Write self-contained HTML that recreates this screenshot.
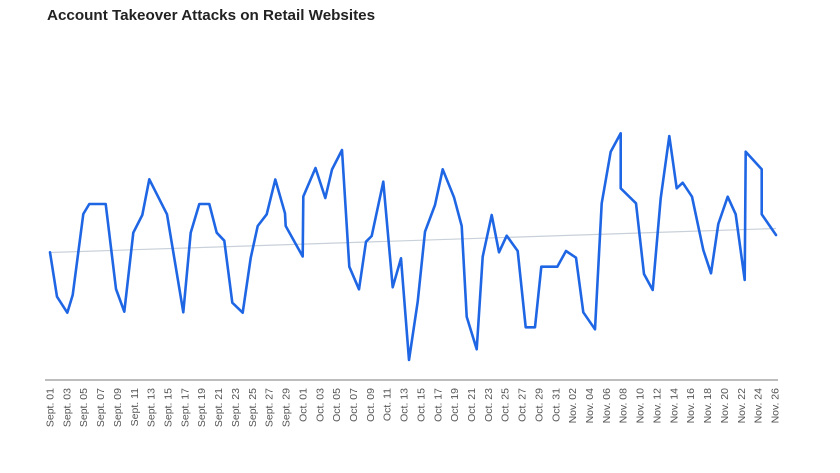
<!DOCTYPE html>
<html><head><meta charset="utf-8"><style>
html,body{margin:0;padding:0;background:#fff;}
svg{display:block;}
</style></head><body>
<svg width="840" height="473" viewBox="0 0 840 473" xmlns="http://www.w3.org/2000/svg">
<rect width="840" height="473" fill="#fff"/>
<text x="47" y="20" font-family="Liberation Sans, sans-serif" font-weight="bold" font-size="15.2" fill="#222">Account Takeover Attacks on Retail Websites</text>
<line x1="45" y1="380" x2="778" y2="380" stroke="#bdbdbd" stroke-width="2"/>
<line x1="50" y1="252.5" x2="776" y2="228.5" stroke="#c8d0d9" stroke-width="1.2"/>
<polyline fill="none" stroke="#1f66e5" stroke-width="2.6" stroke-linejoin="round" stroke-linecap="round" points="50,252.3 57,296.7 67.3,312.7 72.7,295 83.3,214 89.3,204 105.7,204 116,289 124.3,311.7 133.3,232.7 142.3,215 149.3,179.3 167,214.3 183.3,312.3 190.7,232.7 199.3,204 209.3,204 216.7,232.7 224.3,240.7 232.3,302.7 242.7,312.7 250.7,258 257.7,226 266.7,214.3 275.3,179.5 285,213.3 285.7,226 302.7,256.5 303.3,196.5 315.5,168 325.3,198 332,169.5 342,150 349.3,266.7 359,289.3 366,241.7 371.7,236 383.3,181.7 392.7,287.3 401,258.3 409,360 417.7,301.7 425,231.7 435,205 442.7,169.3 454,197.3 461.7,226 466.7,316.7 476.7,349.3 482.7,256.7 491.7,215 499,252.3 506.7,235.7 517.7,251 525.7,327.3 535,327.3 541.3,266.7 557.3,266.7 566,251 576,257.7 583.3,312.3 595,329.3 601.7,203.3 610.7,151.7 620.7,133.3 620.7,188.3 636,203.3 644,274 652.7,290 660.7,198.3 669.3,136 676.7,188.3 682.7,182.7 692,196.7 703.3,250 711,273.3 718.3,224 727.7,196.7 735.7,214.3 744.7,280 745.7,151.7 761.7,169.3 761.7,214.3 776,235"/>
<g font-family="Liberation Sans, sans-serif" font-size="10.5" fill="#555" text-anchor="end">
<text transform="translate(53.5,388) rotate(-90)">Sept. 01</text>
<text transform="translate(70.36,388) rotate(-90)">Sept. 03</text>
<text transform="translate(87.22,388) rotate(-90)">Sept. 05</text>
<text transform="translate(104.08,388) rotate(-90)">Sept. 07</text>
<text transform="translate(120.94,388) rotate(-90)">Sept. 09</text>
<text transform="translate(137.8,388) rotate(-90)">Sept. 11</text>
<text transform="translate(154.66,388) rotate(-90)">Sept. 13</text>
<text transform="translate(171.52,388) rotate(-90)">Sept. 15</text>
<text transform="translate(188.38,388) rotate(-90)">Sept. 17</text>
<text transform="translate(205.24,388) rotate(-90)">Sept. 19</text>
<text transform="translate(222.1,388) rotate(-90)">Sept. 21</text>
<text transform="translate(238.96,388) rotate(-90)">Sept. 23</text>
<text transform="translate(255.82,388) rotate(-90)">Sept. 25</text>
<text transform="translate(272.68,388) rotate(-90)">Sept. 27</text>
<text transform="translate(289.54,388) rotate(-90)">Sept. 29</text>
<text transform="translate(306.4,388) rotate(-90)">Oct. 01</text>
<text transform="translate(323.26,388) rotate(-90)">Oct. 03</text>
<text transform="translate(340.12,388) rotate(-90)">Oct. 05</text>
<text transform="translate(356.98,388) rotate(-90)">Oct. 07</text>
<text transform="translate(373.84,388) rotate(-90)">Oct. 09</text>
<text transform="translate(390.7,388) rotate(-90)">Oct. 11</text>
<text transform="translate(407.56,388) rotate(-90)">Oct. 13</text>
<text transform="translate(424.42,388) rotate(-90)">Oct. 15</text>
<text transform="translate(441.28,388) rotate(-90)">Oct. 17</text>
<text transform="translate(458.14,388) rotate(-90)">Oct. 19</text>
<text transform="translate(475,388) rotate(-90)">Oct. 21</text>
<text transform="translate(491.86,388) rotate(-90)">Oct. 23</text>
<text transform="translate(508.72,388) rotate(-90)">Oct. 25</text>
<text transform="translate(525.58,388) rotate(-90)">Oct. 27</text>
<text transform="translate(542.44,388) rotate(-90)">Oct. 29</text>
<text transform="translate(559.3,388) rotate(-90)">Oct. 31</text>
<text transform="translate(576.16,388) rotate(-90)">Nov. 02</text>
<text transform="translate(593.02,388) rotate(-90)">Nov. 04</text>
<text transform="translate(609.88,388) rotate(-90)">Nov. 06</text>
<text transform="translate(626.74,388) rotate(-90)">Nov. 08</text>
<text transform="translate(643.6,388) rotate(-90)">Nov. 10</text>
<text transform="translate(660.46,388) rotate(-90)">Nov. 12</text>
<text transform="translate(677.32,388) rotate(-90)">Nov. 14</text>
<text transform="translate(694.18,388) rotate(-90)">Nov. 16</text>
<text transform="translate(711.04,388) rotate(-90)">Nov. 18</text>
<text transform="translate(727.9,388) rotate(-90)">Nov. 20</text>
<text transform="translate(744.76,388) rotate(-90)">Nov. 22</text>
<text transform="translate(761.62,388) rotate(-90)">Nov. 24</text>
<text transform="translate(778.48,388) rotate(-90)">Nov. 26</text>
</g>
</svg>
</body></html>
